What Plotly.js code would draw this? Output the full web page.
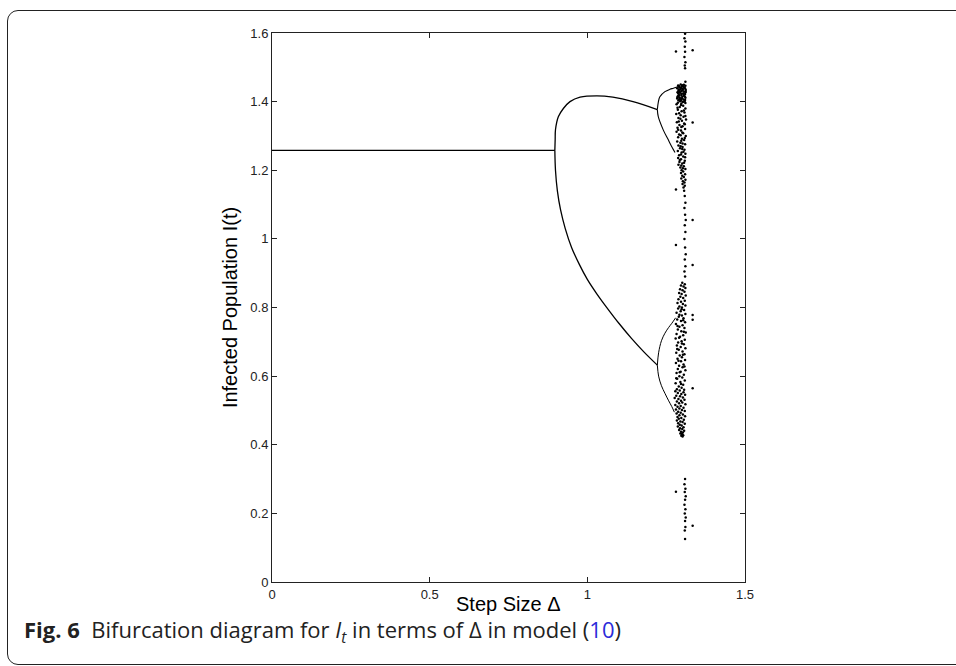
<!DOCTYPE html>
<html>
<head>
<meta charset="utf-8">
<script src="https://cdn.plot.ly/plotly-3.0.1.min.js"></script>
<style>
  html, body { margin: 0; padding: 0; background: #fff; }
  #wrap { position: relative; width: 956px; height: 666px; overflow: hidden; }
  #frame { position: absolute; left: 7px; top: 10px; width: 1100px; height: 655px;
           border: 1.6px solid #222; border-radius: 11px; box-sizing: border-box; }
  #chart { position: absolute; left: 0; top: 0; width: 956px; height: 666px; }
</style>
</head>
<body>
<div id="wrap">
  <div id="frame"></div>
  <div id="chart"></div>
</div>
<script>
// ---- data ----
const xTicks = [0, 0.5, 1, 1.5];
const xTickText = ["0", "0.5", "1", "1.5"];
const yTicks = [0, 0.2, 0.4, 0.6, 0.8, 1, 1.2, 1.4, 1.6];
const yTickText = ["0", "0.2", "0.4", "0.6", "0.8", "1", "1.2", "1.4", "1.6"];

// fixed point (period 1)
const p1X = [0, 0.897];
const p1Y = [1.258, 1.258];

// period-2 branches
const p2UpX = [0.897, 0.898, 0.899, 0.908, 0.924, 0.945, 0.977, 1.031, 1.081, 1.145, 1.222];
const p2UpY = [1.258, 1.290, 1.318, 1.356, 1.380, 1.400, 1.413, 1.417, 1.413, 1.400, 1.377];
const p2LoX = [0.897, 0.899, 0.905, 0.915, 0.930, 0.950, 0.975, 1.000, 1.030, 1.060, 1.100, 1.140, 1.180, 1.222];
const p2LoY = [1.258, 1.200, 1.140, 1.085, 1.030, 0.975, 0.925, 0.882, 0.840, 0.802, 0.754, 0.710, 0.670, 0.632];

// period-4 branches
const p4aX = [1.222, 1.225, 1.230, 1.246, 1.262, 1.273, 1.289];
const p4aY = [1.377, 1.398, 1.414, 1.429, 1.436, 1.439, 1.444];
const p4bX = [1.222, 1.225, 1.241, 1.256, 1.262, 1.270, 1.278];
const p4bY = [1.377, 1.356, 1.317, 1.290, 1.279, 1.265, 1.252];
const p4cX = [1.222, 1.226, 1.235, 1.246, 1.258, 1.268, 1.280];
const p4cY = [0.632, 0.668, 0.703, 0.725, 0.742, 0.754, 0.770];
const p4dX = [1.222, 1.226, 1.235, 1.246, 1.258, 1.268, 1.276];
const p4dY = [0.632, 0.600, 0.572, 0.550, 0.528, 0.511, 0.495];

// chaotic regime: [Δ, I] iterates
const chaosUpper = [
  [1.296,1.450],[1.306,1.449],[1.288,1.447],[1.311,1.446],[1.300,1.444],[1.292,1.442],[1.308,1.441],[1.285,1.439],
  [1.303,1.437],[1.295,1.436],[1.312,1.434],[1.289,1.432],[1.299,1.431],[1.307,1.429],[1.286,1.427],[1.294,1.426],
  [1.304,1.424],[1.310,1.422],[1.290,1.421],[1.298,1.419],[1.306,1.417],[1.287,1.416],[1.301,1.414],[1.293,1.412],
  [1.311,1.411],[1.285,1.409],[1.297,1.407],[1.305,1.406],[1.289,1.404],[1.309,1.402],[1.294,1.401],[1.302,1.399],
  [1.287,1.397],[1.311,1.396],[1.298,1.394],
  [1.301,1.448],[1.291,1.445],[1.305,1.443],[1.297,1.440],[1.310,1.438],[1.290,1.435],[1.302,1.433],[1.293,1.430],
  [1.312,1.428],[1.288,1.425],[1.299,1.423],[1.307,1.420],[1.291,1.418],[1.309,1.415],[1.286,1.413],[1.300,1.410],
  [1.292,1.408],[1.310,1.405],[1.297,1.403],[1.306,1.400],
  [1.283,1.392],[1.304,1.388],[1.293,1.384],[1.311,1.380],[1.287,1.376],[1.299,1.372],[1.308,1.368],[1.282,1.364],
  [1.296,1.360],[1.305,1.356],[1.289,1.352],[1.313,1.348],[1.300,1.344],[1.284,1.340],[1.307,1.336],[1.292,1.332],
  [1.302,1.328],[1.286,1.324],[1.310,1.320],[1.297,1.316],[1.283,1.312],[1.304,1.308],[1.291,1.304],[1.312,1.300],
  [1.288,1.296],[1.300,1.292],[1.307,1.288],[1.285,1.284],[1.295,1.280],[1.310,1.276],[1.289,1.272],[1.302,1.268],
  [1.294,1.264],[1.308,1.260],[1.287,1.256],[1.299,1.252],[1.311,1.248],[1.291,1.244],[1.304,1.240],[1.288,1.236],
  [1.297,1.232],[1.309,1.228],[1.292,1.224],[1.301,1.220],[1.289,1.216],[1.306,1.212],[1.295,1.208],[1.311,1.204],
  [1.299,1.200],
  [1.297,1.390],[1.286,1.382],[1.306,1.374],[1.291,1.366],[1.311,1.358],[1.295,1.350],[1.290,1.342],[1.309,1.334],
  [1.298,1.326],[1.288,1.318],[1.301,1.310],[1.296,1.302],[1.309,1.294],[1.298,1.286],[1.302,1.278],[1.296,1.270],
  [1.301,1.262],[1.305,1.254],[1.297,1.246],[1.310,1.238],[1.293,1.230],[1.307,1.222],[1.298,1.214],[1.303,1.206],
  [1.304,1.196],[1.297,1.192],[1.310,1.188],[1.301,1.184],[1.306,1.180],[1.298,1.176],[1.311,1.172],[1.303,1.168],
  [1.308,1.164],[1.302,1.160],[1.309,1.155],[1.305,1.150]
];
const chaosLower = [
  [1.301,0.872],[1.309,0.868],[1.297,0.864],[1.305,0.861],[1.311,0.857],[1.294,0.853],[1.302,0.850],[1.308,0.846],
  [1.291,0.842],[1.299,0.839],[1.312,0.835],[1.295,0.831],[1.304,0.828],[1.289,0.824],[1.309,0.820],[1.297,0.817],
  [1.286,0.813],[1.303,0.810],[1.311,0.806],[1.292,0.803],[1.300,0.800],
  [1.288,0.797],[1.307,0.793],[1.296,0.789],[1.283,0.785],[1.311,0.781],[1.300,0.777],[1.290,0.773],[1.305,0.769],
  [1.285,0.765],[1.297,0.761],[1.310,0.757],[1.281,0.752],[1.302,0.748],[1.292,0.744],[1.308,0.740],[1.287,0.736],
  [1.298,0.731],[1.312,0.727],[1.283,0.723],[1.304,0.719],[1.294,0.715],[1.280,0.710],[1.309,0.706],[1.299,0.702],
  [1.288,0.698],[1.306,0.693],[1.284,0.689],[1.296,0.685],[1.311,0.681],[1.290,0.677],[1.302,0.672],[1.282,0.668],
  [1.308,0.664],[1.293,0.660],[1.300,0.655],[1.286,0.651],[1.310,0.647],[1.297,0.643],[1.281,0.638],[1.305,0.634],
  [1.291,0.630],[1.302,0.626],[1.287,0.621],[1.311,0.617],[1.296,0.613],[1.283,0.609],[1.306,0.604],[1.292,0.600],
  [1.301,0.596],[1.285,0.592],[1.309,0.587],[1.295,0.583],[1.280,0.579],[1.304,0.575],[1.290,0.570],[1.299,0.566],
  [1.284,0.562],
  [1.299,0.795],[1.292,0.779],[1.304,0.763],[1.286,0.746],[1.306,0.729],[1.291,0.712],[1.300,0.695],[1.285,0.679],
  [1.303,0.662],[1.289,0.645],[1.308,0.628],[1.293,0.611],[1.282,0.594],[1.297,0.577],[1.307,0.560],
  [1.293,0.558],[1.279,0.556],[1.305,0.553],[1.287,0.551],[1.298,0.548],[1.310,0.546],[1.282,0.543],[1.294,0.541],
  [1.303,0.538],[1.277,0.536],[1.289,0.533],[1.308,0.531],[1.297,0.528],[1.284,0.526],[1.301,0.523],[1.291,0.521],
  [1.311,0.518],[1.279,0.516],[1.296,0.513],[1.286,0.511],[1.305,0.508],[1.292,0.506],[1.281,0.503],[1.300,0.501],
  [1.309,0.498],[1.288,0.496],[1.296,0.493],[1.283,0.491],[1.303,0.488],[1.292,0.486],[1.310,0.483],[1.286,0.481],
  [1.298,0.478],[1.290,0.476],[1.306,0.473],[1.284,0.471],[1.295,0.468],[1.302,0.466],[1.288,0.463],[1.309,0.461],
  [1.293,0.458],[1.299,0.456],[1.287,0.453],[1.305,0.451],[1.294,0.448],[1.301,0.446],[1.291,0.443],[1.307,0.441],
  [1.297,0.438],[1.303,0.436],[1.295,0.433],[1.300,0.431],[1.304,0.428],[1.298,0.426],[1.302,0.424]
];
const chaosSparse = [
  [1.307,1.140],[1.281,1.144],[1.309,1.125],[1.311,1.105],[1.308,1.090],[1.310,1.070],[1.312,1.055],[1.334,1.055],
  [1.309,1.040],[1.311,1.020],[1.308,1.000],[1.281,0.982],[1.310,0.975],[1.312,0.955],[1.309,0.940],[1.334,0.924],
  [1.311,0.920],[1.308,0.905],[1.310,0.890],
  [1.334,0.778],[1.334,0.764],[1.334,0.565],
  [1.310,0.300],[1.308,0.285],[1.311,0.272],[1.309,0.262],[1.281,0.263],[1.312,0.250],[1.310,0.240],[1.308,0.225],
  [1.311,0.212],[1.309,0.200],[1.312,0.188],[1.310,0.178],[1.334,0.164],[1.311,0.160],[1.309,0.150],[1.310,0.125],
  [1.310,1.598],[1.308,1.585],[1.311,1.575],[1.309,1.560],[1.281,1.546],[1.334,1.550],[1.310,1.545],[1.308,1.530],
  [1.311,1.515],[1.309,1.505],[1.310,1.497],[1.311,1.458],[1.334,1.339]
];

const chaosAll = chaosUpper.concat(chaosLower, chaosSparse);
const black = "#000";
const lineW = 1.3;
const traces = [
  {x: p1X, y: p1Y, mode: "lines", line: {color: black, width: lineW}},
  {x: p2UpX, y: p2UpY, mode: "lines", line: {color: black, width: lineW, shape: "spline"}},
  {x: p2LoX, y: p2LoY, mode: "lines", line: {color: black, width: lineW, shape: "spline"}},
  {x: p4aX, y: p4aY, mode: "lines", line: {color: black, width: 1.1, shape: "spline"}},
  {x: p4bX, y: p4bY, mode: "lines", line: {color: black, width: 1.1, shape: "spline"}},
  {x: p4cX, y: p4cY, mode: "lines", line: {color: black, width: 1.0, shape: "spline"}},
  {x: p4dX, y: p4dY, mode: "lines", line: {color: black, width: 1.0, shape: "spline"}},
  {x: chaosAll.map(p => p[0]), y: chaosAll.map(p => p[1]), mode: "markers",
   marker: {color: black, size: 2.5, line: {width: 0}}}
];

const tickFont = {family: "Liberation Sans, Arial, sans-serif", size: 13, color: "#222"};
const titleFont = {family: "Liberation Sans, Arial, sans-serif", size: 20, color: "#000"};

const layout = {
  width: 956, height: 666,
  margin: {l: 272, r: 211, t: 33, b: 84},
  paper_bgcolor: "rgba(0,0,0,0)",
  plot_bgcolor: "#fff",
  showlegend: false,
  xaxis: {
    range: [0, 1.5], tickvals: xTicks, ticktext: xTickText,
    ticks: "inside", ticklen: 5, tickcolor: "#222", mirror: "ticks",
    showline: true, linecolor: "#222", linewidth: 1,
    showgrid: false, zeroline: false, tickfont: tickFont
  },
  yaxis: {
    range: [0, 1.6], tickvals: yTicks, ticktext: yTickText,
    ticks: "inside", ticklen: 5, tickcolor: "#222", mirror: "ticks",
    showline: true, linecolor: "#222", linewidth: 1,
    showgrid: false, zeroline: false, tickfont: tickFont,
    title: {text: "Infected Population I(t)", font: titleFont, standoff: 7}
  },
  annotations: [
    {
      xref: "paper", yref: "paper", x: 0.5, y: (582 - 604) / 549,
      xanchor: "center", yanchor: "middle", showarrow: false,
      text: "Step Size Δ", font: titleFont
    },
    {
      xref: "paper", yref: "paper",
      x: (22 - 272) / 473, y: (582 - 631) / 549,
      xanchor: "left", yanchor: "middle", showarrow: false,
      text: "<b>Fig. 6</b>  Bifurcation diagram for <i>I</i><sub><i>t</i></sub> in terms of Δ in model (<span style=\"color:#2b2bd9\">10</span>)",
      font: {family: "Open Sans, Noto Sans, sans-serif", size: 22, color: "#222"}
    }
  ]
};

Plotly.newPlot("chart", traces, layout, {staticPlot: true, displayModeBar: false});
</script>
</body>
</html>
